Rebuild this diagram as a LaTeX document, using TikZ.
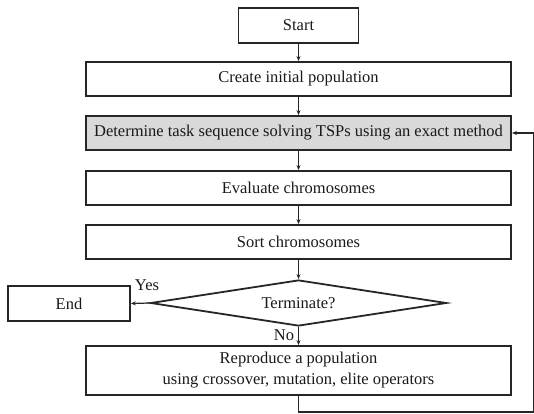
\documentclass[tikz,border=0pt]{standalone}
\usepackage{fontspec}
\setmainfont{Liberation Serif}
\usetikzlibrary{shapes.geometric,arrows.meta}
\begin{document}
\begin{tikzpicture}[x=1pt,y=-1pt,
  box/.style={draw=black!85,line width=1.8pt,rectangle,inner sep=0pt,font=\fontsize{16.5}{21}\selectfont,text=black!90},
  conn/.style={draw=black!85,line width=1.2pt,-{Stealth[length=5pt,width=4pt]}},
  lbl/.style={font=\fontsize{16.5}{20}\selectfont,text=black!90,inner sep=0pt}]
\useasboundingbox (0,0) rectangle (534,413);
\node[box,minimum width=120pt,minimum height=35pt] (start) at (298.5,25.5) {Start};
\node[box,minimum width=425pt,minimum height=34pt] (create) at (298.5,79) {Create initial population};
\node[box,minimum width=425pt,minimum height=34pt,fill=black!15] (det) at (298.5,133) {Determine task sequence solving TSPs using an exact method};
\node[box,minimum width=425pt,minimum height=34pt] (eval) at (298.5,188) {Evaluate chromosomes};
\node[box,minimum width=425pt,minimum height=34pt] (sort) at (298.5,242) {Sort chromosomes};
\node[box,diamond,shape aspect=6.4,minimum width=296pt,minimum height=46pt] (term) at (298.5,303) {Terminate?};
\node[box,minimum width=122pt,minimum height=35pt] (end) at (69,303.5) {End};
\node[box,minimum width=425pt,minimum height=49pt,align=center] (repro) at (298.5,370.5) {Reproduce a population\\using crossover, mutation, elite operators};
\node[lbl] (yes) at (147,285) {Yes};
\node[lbl] (no) at (284,335) {No};
\coordinate (c1) at (298.5,412);
\coordinate (c2) at (533.5,412);
\coordinate (c3) at (533.5,133);
\draw[conn] (start.south) -- (create.north);
\draw[conn] (create.south) -- (det.north);
\draw[conn] (det.south) -- (eval.north);
\draw[conn] (eval.south) -- (sort.north);
\draw[conn] (sort.south) -- (term.north);
\draw[conn] (term.west) -- (end.east);
\draw[conn] (term.south) -- (repro.north);
\draw[conn] (repro.south) -- (c1) -- (c2) -- (c3) -- (det.east);
\end{tikzpicture}
\end{document}
